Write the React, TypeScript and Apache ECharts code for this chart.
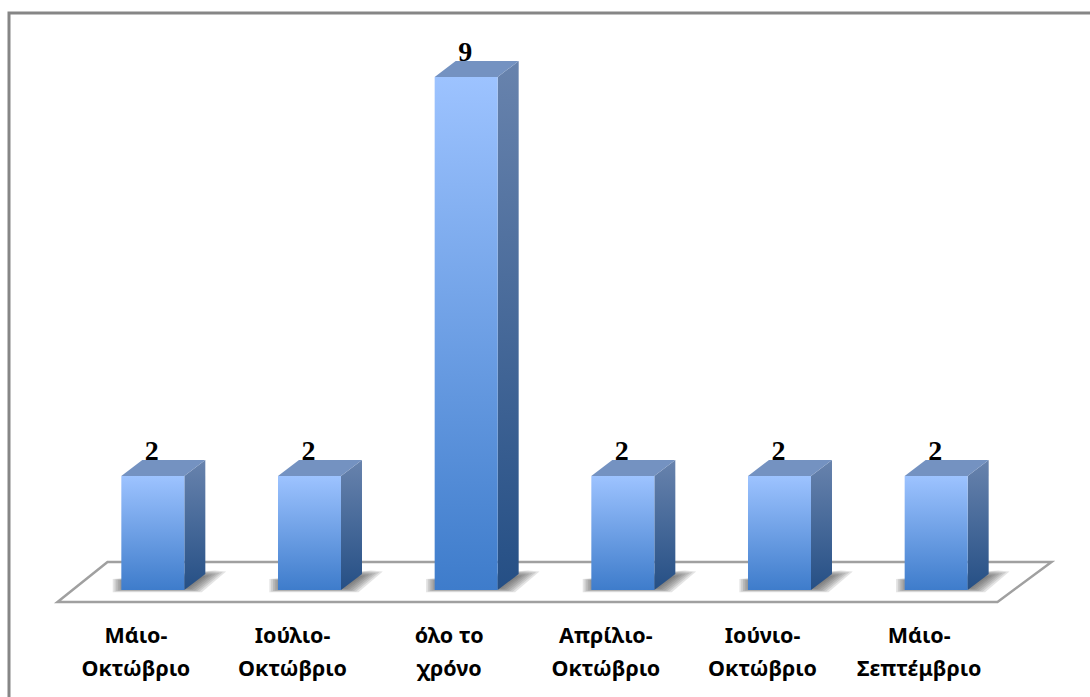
import React, { useEffect, useRef } from "react";
import * as echarts from "echarts";

const categories = [
  "Μάιο-\nΟκτώβριο",
  "Ιούλιο-\nΟκτώβριο",
  "όλο το\nχρόνο",
  "Απρίλιο-\nΟκτώβριο",
  "Ιούνιο-\nΟκτώβριο",
  "Μάιο-\nΣεπτέμβριο",
];
const values = [2, 2, 9, 2, 2, 2];

// Oblique projection of the column depth, in pixels.
const DEPTH_X = 21;
const DEPTH_Y = 16;
const BAR_WIDTH = 63;
// Translucent layers stacked to give the floor shadow a soft edge.
const SHADOW_LAYERS = [0, 1, 2, 3, 4, 5, 6, 7];

const vGradient = (top: string, bottom: string) =>
  new echarts.graphic.LinearGradient(0, 0, 0, 1, [
    { offset: 0, color: top },
    { offset: 1, color: bottom },
  ]);

// Floor plate beneath the columns, derived from the plot area.
function renderFloor(params: any) {
  const c = params.coordSys;
  const front = c.y + c.height + 12;
  const back = c.y + c.height - 28;
  const left = c.x;
  const right = c.x + c.width;
  return {
    type: "polygon",
    shape: {
      points: [
        [left - 17, front],
        [right - 17, front],
        [right + 37, back],
        [left + 33, back],
      ],
    },
    style: { fill: "#ffffff", stroke: "#a0a0a0", lineWidth: 2.5 },
  };
}

function renderColumn(params: any, api: any) {
  const base = api.coord([api.value(0), 0]);
  const top = api.coord([api.value(0), api.value(1)]);
  const l = base[0] - BAR_WIDTH / 2;
  const r = base[0] + BAR_WIDTH / 2;
  const y0 = base[1];
  const y1 = top[1];
  const shadow = SHADOW_LAYERS.map((k) => ({
    type: "polygon",
    shape: {
      points: [
        [l + 4 - k * 1.8, y0 - 9 - k * 0.3],
        [l + 4 - k * 1.8, y0 - 2 + k * 0.6],
        [r + 2 + k * 2.2, y0 - 2 + k * 0.6],
        [r + 18 + k * 3.4, y0 - 13 - k * 0.8],
        [r + 12 + k * 2.6, y0 - 14 - k * 0.8],
      ],
    },
    style: { fill: "rgba(75,75,75,0.15)" },
  }));
  return {
    type: "group",
    children: [
      ...shadow,
      // Side face
      {
        type: "polygon",
        shape: {
          points: [
            [r, y1],
            [r + DEPTH_X, y1 - DEPTH_Y],
            [r + DEPTH_X, y0 - DEPTH_Y],
            [r, y0],
          ],
        },
        style: { fill: vGradient("#6883ad", "#254f85") },
      },
      // Top face
      {
        type: "polygon",
        shape: {
          points: [
            [l, y1],
            [l + DEPTH_X, y1 - DEPTH_Y],
            [r + DEPTH_X, y1 - DEPTH_Y],
            [r, y1],
          ],
        },
        style: { fill: "#7492c1" },
      },
      // Front face
      {
        type: "rect",
        shape: { x: l, y: y1, width: BAR_WIDTH, height: y0 - y1 },
        style: { fill: vGradient("#9dc3ff", "#3e7ccb") },
      },
      // Value above the column
      {
        type: "text",
        style: {
          x: base[0] - 1,
          y: y1 - 12,
          text: String(api.value(1)),
          align: "center",
          verticalAlign: "bottom",
          fill: "#000000",
          font: 'bold 28px "Liberation Serif"',
        },
      },
    ],
  };
}

export default function App() {
  const ref = useRef<HTMLDivElement>(null);

  useEffect(() => {
    const chart = echarts.init(ref.current!, null, { renderer: "svg" });
    chart.setOption({
      animation: false,
      backgroundColor: "#ffffff",
      grid: { left: 74.5, width: 940, top: 20, height: 570 },
      xAxis: {
        type: "category",
        data: categories,
        axisLine: { show: false },
        axisTick: { show: false },
        axisLabel: {
          interval: 0,
          margin: 28,
          color: "#000000",
          fontFamily: "Noto Sans",
          fontWeight: "bold",
          fontSize: 21.5,
          lineHeight: 33,
          // Labels sit under the front edge of the floor, left of the columns.
          padding: [0, 34, 0, 0],
        },
      },
      yAxis: { type: "value", min: 0, max: 10, show: false },
      graphic: [
        {
          type: "polyline",
          shape: { points: [[9, 697], [9, 13], [1090, 13]] },
          style: { fill: "none", stroke: "#868686", lineWidth: 3 },
        },
      ],
      series: [
        {
          type: "custom",
          coordinateSystem: "cartesian2d",
          silent: true,
          z: 1,
          data: [[0, 0]],
          renderItem: renderFloor,
        },
        {
          type: "custom",
          coordinateSystem: "cartesian2d",
          silent: true,
          z: 2,
          clip: false,
          encode: { x: 0, y: 1 },
          data: values.map((v, i) => [i, v]),
          renderItem: renderColumn,
        },
      ],
    });
    return () => chart.dispose();
  }, []);

  return (
    <div
      ref={ref}
      style={{ position: "absolute", left: 0, top: 0, width: 1090, height: 697 }}
    />
  );
}
